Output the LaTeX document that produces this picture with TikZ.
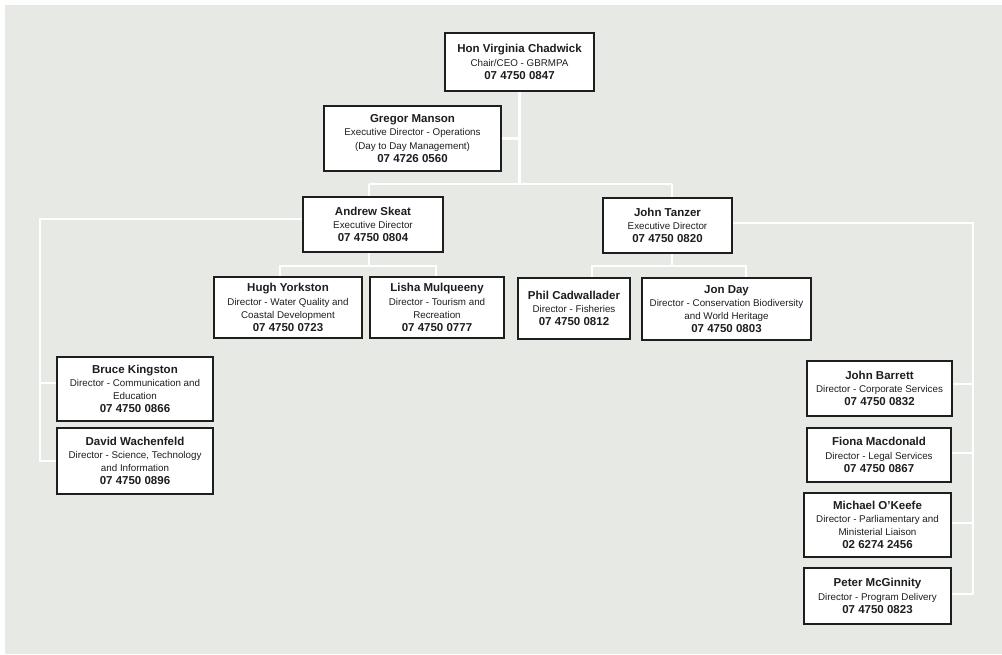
\documentclass[tikz,border=0pt]{standalone}
\usepackage{fontspec}
\setmainfont{Liberation Sans}
\definecolor{paper}{HTML}{E7EAE4}
\definecolor{ink}{HTML}{1E1E1E}
\pgfdeclarelayer{bg}
\pgfsetlayers{bg,main}
\tikzset{
  box/.style={draw=ink, line width=1.4pt, fill=white, align=center, inner sep=0pt,
    text=ink, font=\fontsize{9.8}{13.2}\selectfont},
  conn/.style={draw=white, line width=2.6pt},
}
\newcommand{\nm}[1]{{\fontsize{11.5}{13.2}\selectfont\bfseries #1}}
\begin{document}
\begin{tikzpicture}[x=1pt,y=-1pt]
\useasboundingbox (0,0) rectangle (1002,654);
% nodes
\node[box, minimum width=149, minimum height=58] (chad) at (519.5,62)
  {\nm{Hon Virginia Chadwick}\\Chair/CEO - GBRMPA\\\nm{07 4750 0847}};
\node[box, minimum width=177, minimum height=65] (manson) at (412.5,138.5)
  {\nm{Gregor Manson}\\Executive Director - Operations\\(Day to Day Management)\\\nm{07 4726 0560}};
\node[box, minimum width=140, minimum height=55] (skeat) at (373,224.5)
  {\nm{Andrew Skeat}\\Executive Director\\\nm{07 4750 0804}};
\node[box, minimum width=129, minimum height=55] (tanzer) at (667.5,225.5)
  {\nm{John Tanzer}\\Executive Director\\\nm{07 4750 0820}};
\node[box, minimum width=148, minimum height=61] (yorkston) at (288,307.5)
  {\nm{Hugh Yorkston}\\Director - Water Quality and\\Coastal Development\\\nm{07 4750 0723}};
\node[box, minimum width=134, minimum height=61] (mulqueeny) at (437,307.5)
  {\nm{Lisha Mulqueeny}\\Director - Tourism and\\Recreation\\\nm{07 4750 0777}};
\node[box, minimum width=112, minimum height=61] (cadwallader) at (574,308.5)
  {\nm{Phil Cadwallader}\\Director - Fisheries\\\nm{07 4750 0812}};
\node[box, minimum width=169, minimum height=62] (day) at (726.5,309)
  {\nm{Jon Day}\\Director - Conservation Biodiversity\\and World Heritage\\\nm{07 4750 0803}};
\node[box, minimum width=156, minimum height=64] (kingston) at (135,389)
  {\nm{Bruce Kingston}\\Director - Communication and\\Education\\\nm{07 4750 0866}};
\node[box, minimum width=156, minimum height=66] (wachenfeld) at (135,461)
  {\nm{David Wachenfeld}\\Director - Science, Technology\\and Information\\\nm{07 4750 0896}};
\node[box, minimum width=145, minimum height=55] (barrett) at (879.5,388.5)
  {\nm{John Barrett}\\Director - Corporate Services\\\nm{07 4750 0832}};
\node[box, minimum width=144, minimum height=54] (macdonald) at (879,455)
  {\nm{Fiona Macdonald}\\Director - Legal Services\\\nm{07 4750 0867}};
\node[box, minimum width=147, minimum height=64] (okeefe) at (877.5,525)
  {\nm{Michael O'Keefe}\\Director - Parliamentary and\\Ministerial Liaison\\\nm{02 6274 2456}};
\node[box, minimum width=147, minimum height=56] (mcginnity) at (877.5,596)
  {\nm{Peter McGinnity}\\Director - Program Delivery\\\nm{07 4750 0823}};
% junction coordinates
\coordinate (barL) at (369,184);
\coordinate (barR) at (672,184);
\coordinate (lt) at (40,219);
\coordinate (y1) at (280,266);
\coordinate (y2) at (436,266);
\coordinate (t1) at (592,266);
\coordinate (t2) at (746,266);
\coordinate (rt) at (973,223);
\coordinate (rb) at (973,594);
\begin{pgfonlayer}{bg}
\fill[paper] (0,0) rectangle (1002,654);
\fill[white] (0,0) rectangle (1002,5);
\fill[white] (0,0) rectangle (5,654);
% top
\draw[conn] (chad.south) -- (chad.south |- barL);
\draw[conn] (manson.east) -- (manson.east -| chad.south);
\draw[conn] (barL) -- (barR);
\draw[conn] (barL) -- (barL |- skeat.north);
\draw[conn] (barR) -- (barR |- tanzer.north);
% left column
\draw[conn] ([yshift=5.5pt]skeat.west) -- (lt) -- (lt |- wachenfeld.west) -- (wachenfeld.west);
\draw[conn] ([yshift=6pt]kingston.west) -- ([yshift=6pt]kingston.west -| lt);
% Skeat children
\draw[conn] (barL |- skeat.south) -- (barL |- y1);
\draw[conn] (y1 |- yorkston.north) -- (y1) -- (y2) -- (y2 |- mulqueeny.north);
% Tanzer children
\draw[conn] (barR |- tanzer.south) -- (barR |- t1);
\draw[conn] (t1 |- cadwallader.north) -- (t1) -- (t2) -- (t2 |- day.north);
% right column
\draw[conn] ([yshift=2.5pt]tanzer.east) -- (rt) -- (rb) -- (rb -| mcginnity.east);
\draw[conn] ([yshift=4.5pt]barrett.east) -- ([yshift=4.5pt]barrett.east -| rt);
\draw[conn] ([yshift=2pt]macdonald.east) -- ([yshift=2pt]macdonald.east -| rt);
\draw[conn] ([yshift=2pt]okeefe.east) -- ([yshift=2pt]okeefe.east -| rt);
\end{pgfonlayer}
\end{tikzpicture}
\end{document}
